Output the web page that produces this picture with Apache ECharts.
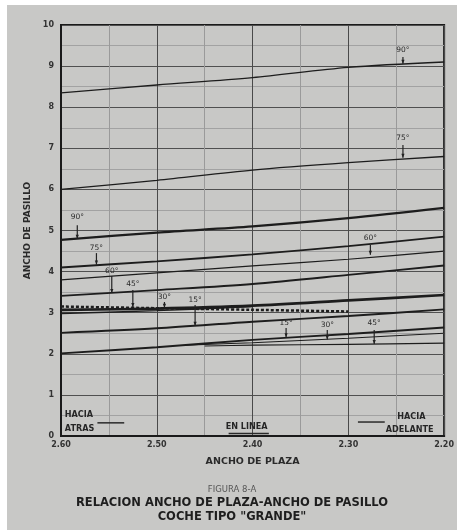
<!DOCTYPE html>
<html>
<head>
<meta charset="utf-8">
<script src="https://cdn.jsdelivr.net/npm/echarts@6/dist/echarts.min.js"></script>
<style>
  html, body { margin: 0; padding: 0; background: #ffffff; }
  #chart { position: absolute; left: 7px; top: 5px; width: 450px; height: 525px; }
</style>
</head>
<body>
<div id="chart"></div>
<script>
// ---- data ----
const xPlaza = [2.60, 2.50, 2.40, 2.30, 2.20];           // ANCHO DE PLAZA
const xTickLabels = ['2.60', '2.50', '2.40', '2.30', '2.20'];
const yTickLabels = ['0','1','2','3','4','5','6','7','8','9','10'];

const adelante90 = [8.35, 8.54, 8.72, 8.97, 9.10];
const adelante75 = [6.00, 6.22, 6.47, 6.65, 6.80];
const atras90    = [4.77, 4.95, 5.10, 5.30, 5.55];
const atras75    = [4.10, 4.25, 4.42, 4.62, 4.85];
const adelante60 = [3.80, 3.97, 4.14, 4.30, 4.50];
const atras60    = [3.41, 3.55, 3.70, 3.92, 4.15];
const atras45    = [3.07, 3.10, 3.17, 3.30, 3.43];
const atras15    = [2.51, 2.62, 2.78, 2.92, 3.08];
const adelante15 = [2.01, 2.16, 2.34, 2.48, 2.64];

const atras30X   = [2.60, 2.50, 2.40];
const atras30    = [2.98, 3.05, 3.15];
const enLineaX   = [2.60, 2.50, 2.40, 2.30];
const enLinea    = [3.15, 3.11, 3.07, 3.03];
const adelante30X = [2.47, 2.40, 2.30, 2.20];
const adelante30  = [2.21, 2.27, 2.38, 2.50];
const adelante45X = [2.45, 2.40, 2.30, 2.20];
const adelante45  = [2.19, 2.21, 2.23, 2.26];

// angle annotations: text, x, y of text, arrow top, arrow tip
const angleText  = ['90°','75°','60°','45°','30°','15°','90°','75°','60°','15°','30°','45°'];
const angleX     = [2.583, 2.563, 2.547, 2.525, 2.492, 2.460, 2.243, 2.243, 2.277, 2.365, 2.322, 2.273];
const angleTextY = [5.33, 4.57, 4.01, 3.70, 3.38, 3.31, 9.39, 7.25, 4.82, 2.75, 2.70, 2.75];
const angleTopY  = [5.13, 4.45, 3.89, 3.55, 3.26, 3.19, 9.22, 7.08, 4.65, 2.63, 2.58, 2.58];
const angleTipY  = [4.80, 4.17, 3.48, 3.14, 3.12, 2.68, 9.06, 6.77, 4.41, 2.40, 2.35, 2.24];

// group notes inside the plot
const noteText  = ['HACIA', 'ATRAS', 'EN LINEA', 'HACIA', 'ADELANTE'];
const noteX     = [2.596, 2.596, 2.428, 2.249, 2.261];
const noteY     = [0.51, 0.17, 0.22, 0.46, 0.15];
const ruleX1 = [2.562, 2.425, 2.290];
const ruleX2 = [2.534, 2.383, 2.262];
const ruleY  = [0.32, 0.06, 0.34];

function pairs(xs, ys) { return xs.map((x, i) => [x, ys[i]]); }

const lineColor = '#1d1d1d';
function curve(name, xs, ys, width, type) {
  return {
    name: name, type: 'line', data: pairs(xs, ys), smooth: 0.3,
    symbol: 'none', silent: true,
    lineStyle: { color: lineColor, width: width, type: type || 'solid' }
  };
}

const chart = echarts.init(document.getElementById('chart'));
chart.setOption({
  backgroundColor: '#c8c8c6',
  animation: false,
  grid: { left: 54, right: 9, top: 20, bottom: 94, show: true, borderColor: '#1a1a1a', borderWidth: 2, backgroundColor: 'transparent' },
  xAxis: {
    type: 'value', min: 2.2, max: 2.6, interval: 0.1, inverse: true,
    name: 'ANCHO DE PLAZA', nameLocation: 'middle', nameGap: 21,
    nameTextStyle: { fontSize: 9.5, color: '#2a2a2a', fontFamily: 'DejaVu Sans', fontWeight: 'bold' },
    axisLine: { show: true, lineStyle: { color: '#1a1a1a', width: 2 } },
    axisTick: { show: false },
    axisLabel: { fontSize: 8, color: '#333', margin: 5, fontFamily: 'DejaVu Sans', fontWeight: 'bold',
      formatter: function (v) { const i = xPlaza.findIndex(p => Math.abs(p - v) < 1e-6); return i >= 0 ? xTickLabels[i] : ''; } },
    splitLine: { show: true, lineStyle: { color: '#4a4a4a', width: 1 } },
    minorTick: { show: false, splitNumber: 2 },
    minorSplitLine: { show: true, lineStyle: { color: '#9a9a9a', width: 1 } }
  },
  yAxis: {
    type: 'value', min: 0, max: 10, interval: 1,
    name: 'ANCHO DE PASILLO', nameLocation: 'middle', nameGap: 15, nameRotate: 90,
    nameTextStyle: { fontSize: 9, color: '#2a2a2a', fontFamily: 'DejaVu Sans', fontWeight: 'bold' },
    axisLine: { show: true, lineStyle: { color: '#1a1a1a', width: 2 } },
    axisTick: { show: false },
    axisLabel: { fontSize: 8, color: '#333', margin: 7, fontFamily: 'DejaVu Sans', fontWeight: 'bold',
      formatter: function (v) { return yTickLabels[Math.round(v)]; } },
    splitLine: { show: true, lineStyle: { color: '#505050', width: 1 } },
    minorTick: { show: false, splitNumber: 2 },
    minorSplitLine: { show: true, lineStyle: { color: '#a2a2a2', width: 1 } }
  },
  series: [
    curve('adelante90', xPlaza, adelante90, 1.3),
    curve('adelante75', xPlaza, adelante75, 1.3),
    curve('atras90', xPlaza, atras90, 2.3),
    curve('atras75', xPlaza, atras75, 1.9),
    curve('adelante60', xPlaza, adelante60, 1.2),
    curve('atras60', xPlaza, atras60, 1.9),
    curve('atras45', xPlaza, atras45, 2.7),
    curve('atras30', atras30X, atras30, 1.4),
    curve('enLinea', enLineaX, enLinea, 2.5, [3, 2]),
    curve('atras15', xPlaza, atras15, 1.9),
    curve('adelante15', xPlaza, adelante15, 1.9),
    curve('adelante30', adelante30X, adelante30, 1.1),
    curve('adelante45', adelante45X, adelante45, 1.1),
    {
      type: 'custom', silent: true, z: 5,
      data: angleText.map((t, i) => [angleX[i], angleTextY[i], angleTopY[i], angleTipY[i], i]),
      renderItem: function (params, api) {
        const i = api.value(4);
        const pt = api.coord([api.value(0), api.value(1)]);
        const top = api.coord([api.value(0), api.value(2)]);
        const tip = api.coord([api.value(0), api.value(3)]);
        return { type: 'group', children: [
          { type: 'text', style: { x: pt[0], y: pt[1], text: angleText[i], fill: '#2a2a2a',
              font: '7.5px "DejaVu Sans"', align: 'center', verticalAlign: 'middle' } },
          { type: 'line', shape: { x1: top[0], y1: top[1], x2: tip[0], y2: tip[1] },
            style: { stroke: '#222', lineWidth: 1.2 } },
          { type: 'polygon', shape: { points: [[tip[0] - 1.6, tip[1] - 4], [tip[0] + 1.6, tip[1] - 4], [tip[0], tip[1]]] },
            style: { fill: '#222' } }
        ] };
      }
    },
    {
      type: 'custom', silent: true, z: 5,
      data: noteText.map((t, i) => [noteX[i], noteY[i], i]),
      renderItem: function (params, api) {
        const i = api.value(2);
        const pt = api.coord([api.value(0), api.value(1)]);
        return { type: 'text', style: { x: pt[0], y: pt[1], text: noteText[i], fill: '#262626',
          font: 'bold 9px "DejaVu Sans Condensed", "DejaVu Sans"', align: 'left', verticalAlign: 'middle' } };
      }
    },
    {
      type: 'custom', silent: true, z: 5,
      data: ruleX1.map((x, i) => [x, ruleX2[i], ruleY[i]]),
      renderItem: function (params, api) {
        const a = api.coord([api.value(0), api.value(2)]);
        const b = api.coord([api.value(1), api.value(2)]);
        return { type: 'line', shape: { x1: a[0], y1: a[1], x2: b[0], y2: b[1] },
          style: { stroke: '#2a2a2a', lineWidth: 1.5 } };
      }
    }
  ],
  graphic: [
    { type: 'text', left: 'center', top: 480, style: { text: 'FIGURA 8-A', fill: '#555', font: '8.5px "DejaVu Sans"' } },
    { type: 'text', left: 'center', top: 492, style: { text: 'RELACION ANCHO DE PLAZA-ANCHO DE PASILLO', fill: '#1e1e1e', font: 'bold 11.5px "DejaVu Sans"' } },
    { type: 'text', left: 'center', top: 506, style: { text: 'COCHE TIPO "GRANDE"', fill: '#1e1e1e', font: 'bold 11.5px "DejaVu Sans"' } }
  ]
});
</script>
</body>
</html>
